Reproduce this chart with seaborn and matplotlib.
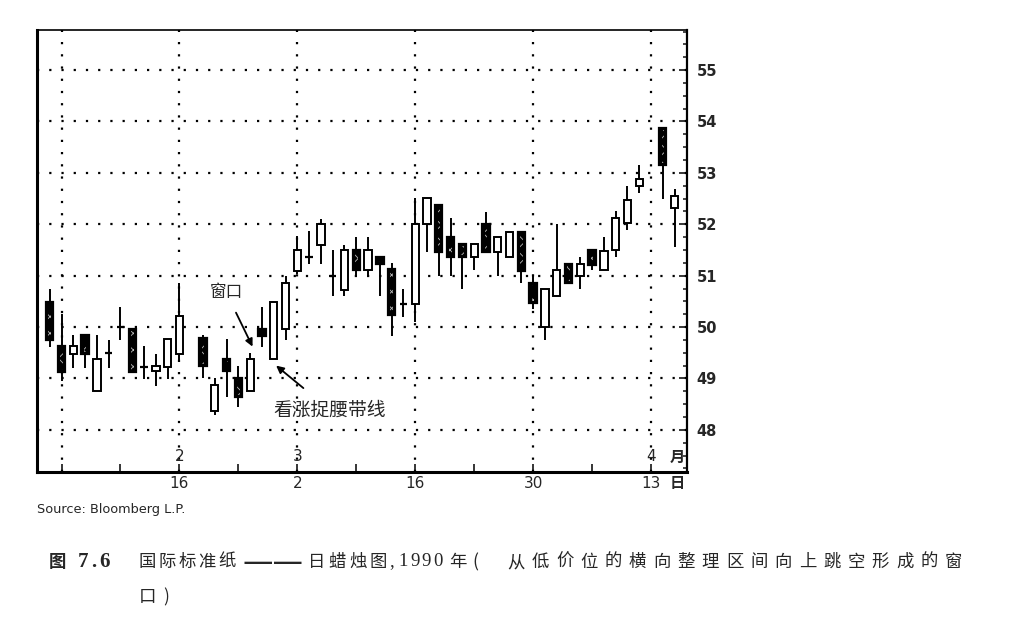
# plot.py
# Daily candlestick chart (International Paper, 1990) with a window and a
# bullish belt-hold line marked, recreated with seaborn / matplotlib.

import numpy as np
import pandas as pd
import matplotlib
matplotlib.use('Agg')
import matplotlib.pyplot as plt
import matplotlib.transforms as mtransforms
import seaborn as sns

# ---- data --------------------------------------------------------------
dates = [
    '1990-02-01', '1990-02-02', '1990-02-05', '1990-02-06', '1990-02-07',
    '1990-02-08', '1990-02-09', '1990-02-12', '1990-02-13', '1990-02-14',
    '1990-02-15', '1990-02-16', '1990-02-20', '1990-02-21', '1990-02-22',
    '1990-02-23', '1990-02-26', '1990-02-27', '1990-02-28', '1990-03-01',
    '1990-03-02', '1990-03-05', '1990-03-06', '1990-03-07', '1990-03-08',
    '1990-03-09', '1990-03-12', '1990-03-13', '1990-03-14', '1990-03-15',
    '1990-03-16', '1990-03-19', '1990-03-20', '1990-03-21', '1990-03-22',
    '1990-03-23', '1990-03-26', '1990-03-27', '1990-03-28', '1990-03-29',
    '1990-03-30', '1990-04-02', '1990-04-03', '1990-04-04', '1990-04-05',
    '1990-04-06', '1990-04-09', '1990-04-10', '1990-04-11', '1990-04-12',
    '1990-04-16', '1990-04-17',
]
opens = [
    50.49, 49.64, 49.48, 49.84, 48.76, 49.49, 50.00, 49.97, 49.22, 49.14,
    49.22, 49.48, 49.78, 48.37, 49.38, 49.01, 48.76, 49.97, 49.38, 49.97,
    51.10, 51.36, 51.60, 51.00, 50.73, 51.49, 51.11, 51.36, 51.13, 50.45,
    50.45, 52.00, 52.38, 51.76, 51.62, 51.36, 52.00, 51.47, 51.36, 51.85,
    50.85, 50.00, 50.60, 51.23, 50.99, 51.50, 51.12, 51.50, 52.02, 52.74,
    53.88, 52.32,
]
highs = [
    50.74, 50.25, 49.85, 49.86, 49.84, 49.75, 50.39, 49.97, 49.64, 49.48,
    49.76, 50.86, 49.85, 49.01, 49.76, 49.24, 49.49, 50.39, 50.49, 51.00,
    51.78, 51.87, 52.11, 51.49, 51.60, 51.75, 51.75, 51.36, 51.24, 50.74,
    52.51, 52.51, 52.38, 52.13, 51.62, 51.62, 52.24, 51.76, 51.85, 51.85,
    51.00, 50.74, 52.00, 51.23, 51.37, 51.50, 51.76, 52.25, 52.74, 53.16,
    53.88, 52.68,
]
lows = [
    49.62, 48.96, 49.21, 49.21, 48.76, 49.20, 49.74, 49.13, 48.99, 48.85,
    48.99, 49.35, 49.01, 48.28, 48.63, 48.44, 48.76, 49.62, 49.38, 49.75,
    51.03, 51.22, 51.22, 50.60, 50.60, 51.00, 51.00, 50.60, 49.83, 50.20,
    50.10, 51.47, 51.00, 51.00, 50.74, 51.11, 51.47, 51.00, 51.36, 50.86,
    50.35, 49.75, 50.60, 50.85, 50.74, 51.12, 51.12, 51.37, 51.89, 52.61,
    52.50, 51.55,
]
closes = [
    49.75, 49.13, 49.63, 49.48, 49.38, 49.49, 50.00, 49.13, 49.22, 49.25,
    49.76, 50.22, 49.24, 48.87, 49.14, 48.63, 49.37, 49.83, 50.49, 50.85,
    51.49, 51.36, 52.00, 51.00, 51.49, 51.11, 51.49, 51.22, 50.24, 50.45,
    52.00, 52.51, 51.47, 51.36, 51.36, 51.62, 51.47, 51.76, 51.85, 51.10,
    50.46, 50.74, 51.12, 50.85, 51.23, 51.21, 51.48, 52.13, 52.48, 52.89,
    53.15, 52.55,
]

start_day = '1990-02-02'
day_ticks = ['1990-02-02', '1990-02-16', '1990-03-02', '1990-03-16',
             '1990-03-30', '1990-04-13']
day_labels = ['', '16', '2', '16', '30', '13']
month_ticks = ['1990-02-16', '1990-03-02', '1990-04-13']
month_labels = ['2', '3', '4']
price_ticks = [48, 49, 50, 51, 52, 53, 54, 55]

window_label = '窗口'
belt_label = '看涨捉腰带线'
source_text = 'Source: Bloomberg L.P.'
fig_no = ['图', '7.6']
# caption pieces as printed (the book line is justified, so spacing varies)
caption_parts = ['国际标准纸', '——', '日蜡烛图', ',1990', '年(',
                 '从低价位的横向整理区间向上跳空形成的窗']
caption_line2 = '口)'


# weekday position (holidays stay as gaps, like the original chart)
def weekday_pos(d):
    if d >= start_day:
        return int(np.busday_count(start_day, d))
    return -int(np.busday_count(d, start_day))


df = pd.DataFrame({'open': opens, 'high': highs, 'low': lows, 'close': closes})
df['x'] = [weekday_pos(d) for d in dates]

# ---- style ---------------------------------------------------------------
sns.set_theme(style='white')
plt.rcParams['font.family'] = ['DejaVu Sans', 'Noto Sans CJK SC']
plt.rcParams['hatch.linewidth'] = 0.6
cjk = ['Noto Sans CJK SC', 'DejaVu Sans']

W, H = 1021, 625
fig = plt.figure(figsize=(W / 100, H / 100), dpi=100)
ax = fig.add_axes([37 / W, 1 - 472 / H, 650 / W, 442 / H])

# dotted grid
dots = (0, (1, 4.5))
for p in price_ticks:
    ax.axhline(p, color='black', lw=1.6, ls=dots, zorder=1)
for d in day_ticks:
    ax.axvline(weekday_pos(d), color='black', lw=1.6, ls=dots, zorder=1)

# wicks
ax.vlines(df['x'], df['low'], df['high'], color='black', lw=1.4, zorder=2)

body_w = 0.62
doji = (df['close'] - df['open']).abs() < 0.03
up = (df['close'] > df['open']) & ~doji
down = (df['close'] < df['open']) & ~doji

# white (rising) bodies
d_up = df[up]
ax.bar(d_up['x'], d_up['close'] - d_up['open'], bottom=d_up['open'],
       width=body_w, facecolor='white', edgecolor='black', lw=1.4, zorder=3)

# dark (falling) bodies: black, with a light zigzag speckle down the middle
d_dn = df[down]
ax.bar(d_dn['x'], d_dn['open'] - d_dn['close'], bottom=d_dn['close'],
       width=body_w, facecolor='black', edgecolor='black', lw=1.6, zorder=3)
ax.bar(d_dn['x'], d_dn['open'] - d_dn['close'] - 0.08,
       bottom=d_dn['close'] + 0.04, width=0.22, facecolor='none',
       edgecolor='#b8b8b8', hatch='xx', lw=0, zorder=4)

# doji crosses
d_dj = df[doji]
ax.hlines(d_dj['close'], d_dj['x'] - body_w / 2, d_dj['x'] + body_w / 2,
          color='black', lw=1.6, zorder=3)

# ---- axes ----------------------------------------------------------------
ax.set_xlim(-2.08, 53.05)
ax.set_ylim(47.18, 55.78)

ax.yaxis.tick_right()
ax.set_yticks(price_ticks)
ax.set_yticklabels([str(p) for p in price_ticks], fontsize=10.5,
                   fontweight='bold')
ax.set_yticks(np.arange(47.25, 55.76, 0.25), minor=True)
ax.tick_params(axis='y', which='major', direction='in', length=6, width=1.3,
               right=True, left=False, pad=7)
ax.tick_params(axis='y', which='minor', direction='in', length=3, width=1.2,
               right=True, left=False)

ax.set_xticks(np.arange(0, 51, 5))
ax.set_xticklabels([])
ax.tick_params(axis='x', which='major', direction='in', length=6, width=1.3,
               bottom=True)

for side in ['left', 'right', 'top', 'bottom']:
    ax.spines[side].set_color('black')
ax.spines['left'].set_linewidth(2.2)
ax.spines['bottom'].set_linewidth(2.2)
ax.spines['right'].set_linewidth(1.6)
ax.spines['top'].set_linewidth(1.2)

# two-row date labels: month inside the frame, day under it
trans = mtransforms.blended_transform_factory(ax.transData, ax.transAxes)
for d, lab in zip(month_ticks, month_labels):
    ax.text(weekday_pos(d), 0.035, lab, transform=trans, ha='center',
            va='center', fontsize=11)
for d, lab in zip(day_ticks, day_labels):
    ax.text(weekday_pos(d), -0.025, lab, transform=trans, ha='center',
            va='center', fontsize=11)
ax.text(52.2, 0.035, '月', transform=trans, ha='center', va='center',
        fontsize=11, family=cjk, fontweight='bold')
ax.text(52.2, -0.025, '日', transform=trans, ha='center', va='center',
        fontsize=11, family=cjk, fontweight='bold')

# annotations
ax.annotate(window_label, xy=(16.2, 49.62), xytext=(13.95, 50.68),
            fontsize=12, family=cjk, ha='center', va='center',
            arrowprops=dict(arrowstyle='-|>', color='black', lw=1.3,
                            shrinkA=7, shrinkB=0, mutation_scale=11))
ax.annotate(belt_label, xy=(18.2, 49.25), xytext=(22.75, 48.39),
            fontsize=13.5, family=cjk, ha='center', va='center',
            arrowprops=dict(arrowstyle='-|>', color='black', lw=1.3,
                            shrinkA=9, shrinkB=0, mutation_scale=11))


# ---- source and caption (pixel positions measured on the page) ----------
def put(x, y, s, **kw):
    fig.text(x / W, 1 - y / H, s, va='center', **kw)


def put_spaced(x0, y, s, step, **kw):
    # one glyph per slot, centred, to mimic the printed letter spacing
    for i, ch in enumerate(s):
        put(x0 + i * step, y, ch, ha='center', **kw)


put(37, 510, source_text, fontsize=9.3)

cap_y = 562
put(57, cap_y, fig_no[0], ha='center', fontsize=12.5, fontweight='bold',
    family=cjk)
put_spaced(83, cap_y, fig_no[1], 11.0, fontsize=15, fontweight='bold',
           family='Liberation Serif')
cap_kw = dict(fontsize=12.5, family=cjk)
put_spaced(147, cap_y, caption_parts[0], 20.0, **cap_kw)
put(273, cap_y, caption_parts[1], ha='center', fontsize=22,
    family='DejaVu Sans')
put_spaced(317, cap_y, caption_parts[2], 20.3, **cap_kw)
put_spaced(392, cap_y, caption_parts[3], 11.4, fontsize=13.5,
           family='Liberation Serif')
put_spaced(458, cap_y, caption_parts[4], 17.0, **cap_kw)
put_spaced(516, cap_y, caption_parts[5], 24.3, **cap_kw)
put_spaced(147, 597, caption_line2, 19.0, **cap_kw)

fig.savefig('out.png', dpi=100, facecolor='white')
